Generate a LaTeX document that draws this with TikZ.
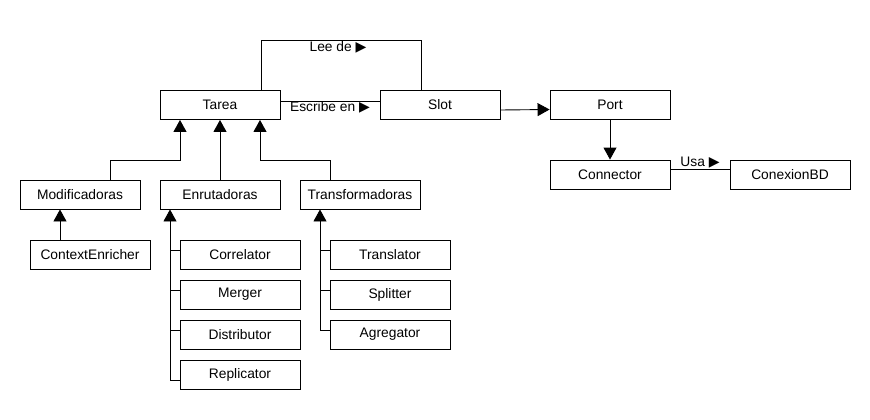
\documentclass[tikz,border=0pt]{standalone}
\usepackage{fontspec}
\setmainfont{Liberation Sans}
\newfontfamily\symfont{DejaVu Sans}
\usetikzlibrary{arrows.meta}
\newcommand{\sentido}{{\symfont\fontsize{14}{14}\selectfont ▶}}
\tikzset{
  clase/.style={draw, line width=0.9pt, minimum width=120pt, minimum height=29pt, inner sep=0pt},
  rel/.style={line width=0.9pt},
  hereda/.style={rel, -{Triangle[width=13pt,length=12pt]}},
  etiqueta/.style={inner sep=1.5pt}
}
\begin{document}
\begin{tikzpicture}[x=1pt, y=-1pt, font=\fontsize{13.8}{16}\selectfont]
\useasboundingbox (0,0) rectangle (870,420);
\fill[white] (0,0) rectangle (870,420);

% clases principales
\node[clase] (tarea) at (220,105) {Tarea};
\node[clase] (slot) at (440,105) {Slot};
\node[clase] (port) at (610,104.5) {Port};
\node[clase] (connector) at (610,174.5) {Connector};
\node[clase] (conexion) at (790,174.5) {ConexionBD};

% tipos de tarea
\node[clase] (modif) at (80,194.5) {Modificadoras};
\node[clase] (enrut) at (220,194.5) {Enrutadoras};
\node[clase] (transf) at (360,194.5) {Transformadoras};
\node[clase] (context) at (90,254.5) {ContextEnricher};

\node[clase] (correlator) at (240,254.5) {Correlator};
\node[clase] (merger) at (240,294.5) {Merger};
\node[clase] (distributor) at (240,334.5) {Distributor};
\node[clase] (replicator) at (240,374.5) {Replicator};

\node[clase] (translator) at (390,254.5) {Translator};
\node[clase] (splitter) at (390,294.5) {Splitter};
\node[clase] (agregator) at (390,334.5) {Agregator};

% tarea y slot
\coordinate (leeA) at (261,40);
\coordinate (leeB) at (421,40);
\draw[rel] (leeA |- tarea.north) -- (leeA) -- node[etiqueta, below, xshift=-3pt] {Lee de \sentido} (leeB) -- (leeB |- slot.north);
\draw[rel] ([yshift=4pt]tarea.east) -- node[etiqueta, below, inner sep=0.5pt] {Escribe en \sentido} ([yshift=4pt]slot.west);
\draw[hereda] ([yshift=-5pt]slot.east) -- ([yshift=-5pt]port.west);
\draw[hereda] (port.south) -- (connector.north);
\draw[rel] ([yshift=5.5pt]connector.east) -- node[etiqueta, above, inner sep=0pt] {Usa \sentido} ([yshift=5.5pt]conexion.west);

% herencia de tarea
\coordinate (modJ) at (180,160);
\coordinate (transJ) at (260,160);
\draw[hereda] ([xshift=30pt]modif.north) |- (modJ) -- (modJ |- tarea.south);
\draw[hereda] (enrut.north) -- (tarea.south);
\draw[hereda] ([xshift=-30pt]transf.north) |- (transJ) -- (transJ |- tarea.south);
\draw[hereda] ([xshift=-30pt]context.north) -- ([xshift=-20pt]modif.south);

% enrutadoras
\draw[hereda] ([yshift=-5.5pt]replicator.west) -| ([xshift=-50pt]enrut.south);
\foreach \n in {correlator, merger, distributor}
  \draw[rel] ([yshift=4.5pt]\n.west) -- ++(-10,0);

% transformadoras
\draw[hereda] ([yshift=4.5pt]agregator.west) -| ([xshift=-40pt]transf.south);
\foreach \n in {translator, splitter}
  \draw[rel] ([yshift=4.5pt]\n.west) -- ++(-10,0);
\end{tikzpicture}
\end{document}
